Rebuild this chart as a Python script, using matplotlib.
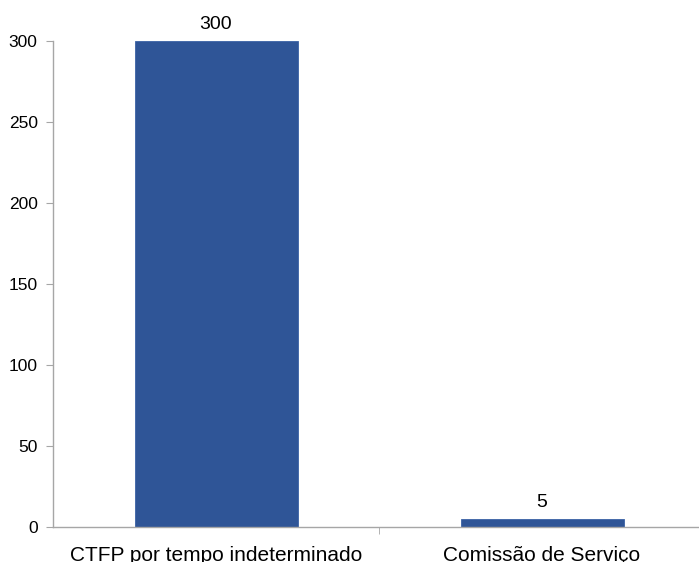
import matplotlib
matplotlib.use('Agg')
import matplotlib.pyplot as plt

categories = ['CTFP por tempo indeterminado', 'Comissão de Serviço']
values = [300, 5]
yticks = [0, 50, 100, 150, 200, 250, 300]

plt.rcParams['font.family'] = ['Liberation Sans', 'DejaVu Sans']

fig = plt.figure(figsize=(6.99, 5.62), dpi=100)
ax = fig.add_axes([53 / 699, 35 / 562, 652 / 699, 486 / 562])

x = list(range(len(categories)))
bars = ax.bar(x, values, width=0.5, color='#2F5597', edgecolor='#3A62A6', linewidth=0.6)

for b, v in zip(bars, values):
    ax.annotate(str(v), (b.get_x() + b.get_width() / 2, v), xytext=(0, 6),
                textcoords='offset points', ha='center', va='bottom', fontsize=14)

ax.set_xlim(-0.5, 1.5)
ax.set_ylim(0, 300)
ax.set_yticks(yticks)
ax.tick_params(axis='y', labelsize=12.5, length=5, color='#A6A6A6', pad=6)

# category labels without ticks, separator ticks between categories
ax.set_xticks(x)
ax.set_xticklabels(categories, fontsize=15)
ax.tick_params(axis='x', length=0, pad=14)
ax.set_xticks([0.5, 1.5], minor=True)
ax.tick_params(axis='x', which='minor', length=5, color='#A6A6A6')

for s in ['top', 'right']:
    ax.spines[s].set_visible(False)
for s in ['left', 'bottom']:
    ax.spines[s].set_color('#A6A6A6')
    ax.spines[s].set_linewidth(1.0)

fig.savefig('out.png', dpi=100)
